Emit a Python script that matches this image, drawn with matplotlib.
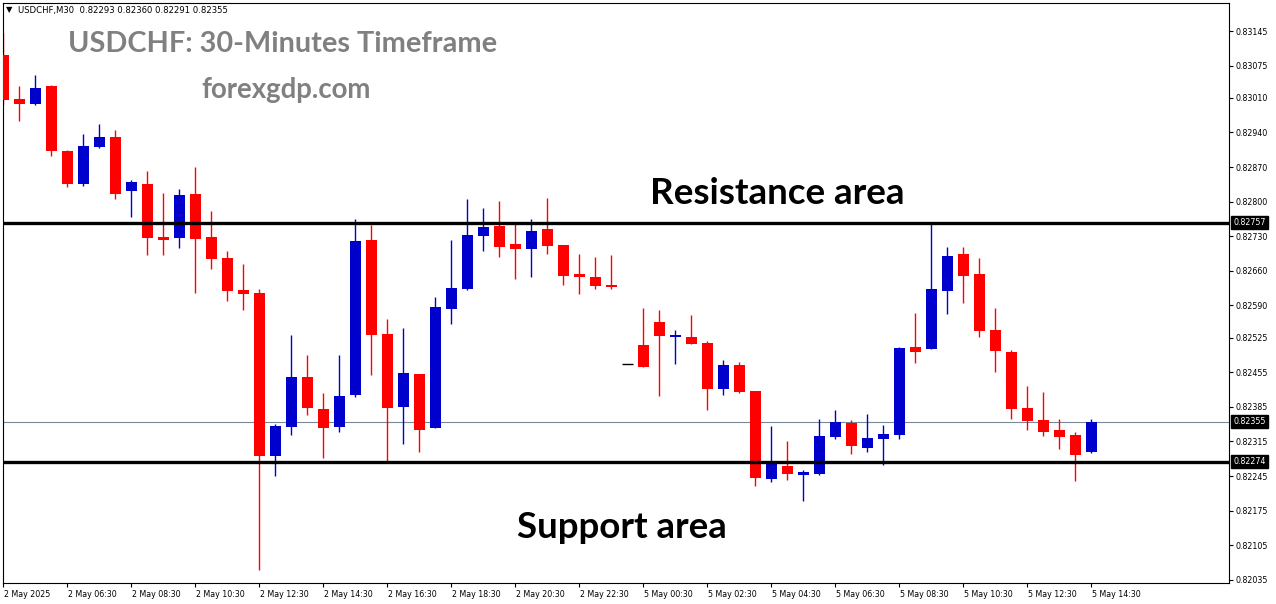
import matplotlib
matplotlib.use("Agg")
import matplotlib.pyplot as plt
import matplotlib.transforms as mtransforms

# --- data (USDCHF M30) ---
OPENS = [0.83097, 0.83008, 0.82998, 0.83034, 0.82902, 0.82836, 0.82911, 0.82931, 0.82822, 0.82836,
         0.82729, 0.82727, 0.82816, 0.82729, 0.82686, 0.82621, 0.82615, 0.82286, 0.82345, 0.82445,
         0.82381, 0.82345, 0.82408, 0.82722, 0.82532, 0.82385, 0.82452, 0.82343, 0.82583, 0.82624,
         0.82731, 0.82751, 0.82714, 0.82705, 0.82745, 0.82712, 0.82654, 0.82648, 0.82631, 0.82472,
         0.82510, 0.82557, 0.82527, 0.82526, 0.82514, 0.82422, 0.82470, 0.82417, 0.82240, 0.82266,
         0.82248, 0.82250, 0.82325, 0.82352, 0.82302, 0.82321, 0.82329, 0.82506, 0.82503, 0.82620,
         0.82694, 0.82654, 0.82540, 0.82496, 0.82383, 0.82358, 0.82338, 0.82328, 0.82293]
HIGHS = [0.83141, 0.83034, 0.83056, 0.83035, 0.82904, 0.82937, 0.82957, 0.82945, 0.82844, 0.82862,
         0.82818, 0.82826, 0.82871, 0.82782, 0.82700, 0.82674, 0.82623, 0.82350, 0.82530, 0.82490,
         0.82413, 0.82490, 0.82765, 0.82753, 0.82563, 0.82545, 0.82452, 0.82607, 0.82722, 0.82805,
         0.82787, 0.82801, 0.82755, 0.82765, 0.82807, 0.82712, 0.82694, 0.82688, 0.82692, 0.82472,
         0.82585, 0.82581, 0.82540, 0.82571, 0.82518, 0.82480, 0.82476, 0.82417, 0.82346, 0.82315,
         0.82257, 0.82360, 0.82379, 0.82358, 0.82371, 0.82348, 0.82506, 0.82575, 0.82755, 0.82708,
         0.82708, 0.82686, 0.82585, 0.82500, 0.82427, 0.82415, 0.82360, 0.82334, 0.82360]
LOWS = [0.82995, 0.82964, 0.82995, 0.82892, 0.82830, 0.82832, 0.82909, 0.82806, 0.82768, 0.82693,
        0.82693, 0.82707, 0.82615, 0.82664, 0.82600, 0.82581, 0.82055, 0.82246, 0.82329, 0.82369,
        0.82282, 0.82335, 0.82404, 0.82450, 0.82276, 0.82309, 0.82294, 0.82343, 0.82553, 0.82622,
        0.82701, 0.82689, 0.82644, 0.82648, 0.82695, 0.82632, 0.82614, 0.82624, 0.82624, 0.82472,
        0.82466, 0.82406, 0.82472, 0.82513, 0.82379, 0.82410, 0.82414, 0.82226, 0.82234, 0.82238,
        0.82195, 0.82248, 0.82321, 0.82290, 0.82294, 0.82268, 0.82321, 0.82474, 0.82503, 0.82573,
        0.82596, 0.82527, 0.82456, 0.82361, 0.82339, 0.82327, 0.82300, 0.82236, 0.82291]
CLOSES = [0.83006, 0.82998, 0.83030, 0.82903, 0.82836, 0.82912, 0.82931, 0.82816, 0.82840, 0.82727,
          0.82723, 0.82814, 0.82725, 0.82683, 0.82620, 0.82614, 0.82286, 0.82346, 0.82445, 0.82383,
          0.82343, 0.82407, 0.82720, 0.82531, 0.82383, 0.82454, 0.82339, 0.82587, 0.82625, 0.82733,
          0.82749, 0.82709, 0.82705, 0.82741, 0.82711, 0.82650, 0.82648, 0.82630, 0.82628, 0.82472,
          0.82466, 0.82529, 0.82530, 0.82513, 0.82422, 0.82470, 0.82416, 0.82242, 0.82270, 0.82250,
          0.82253, 0.82326, 0.82354, 0.82305, 0.82322, 0.82330, 0.82504, 0.82495, 0.82623, 0.82690,
          0.82650, 0.82539, 0.82497, 0.82381, 0.82357, 0.82335, 0.82325, 0.82288, 0.82355]

X_LABELS = ["2 May 2025", "2 May 06:30", "2 May 08:30", "2 May 10:30", "2 May 12:30",
            "2 May 14:30", "2 May 16:30", "2 May 18:30", "2 May 20:30", "2 May 22:30",
            "5 May 00:30", "5 May 02:30", "5 May 04:30", "5 May 06:30", "5 May 08:30",
            "5 May 10:30", "5 May 12:30", "5 May 14:30"]
Y_TICKS = [0.83145, 0.83075, 0.83010, 0.82940, 0.82870, 0.82800, 0.82730, 0.82660, 0.82590,
           0.82525, 0.82455, 0.82385, 0.82315, 0.82245, 0.82175, 0.82105, 0.82035]

RESISTANCE = 0.82757
SUPPORT = 0.82274
LAST_PRICE = 0.82355
HEADER = "USDCHF,M30  0.82293 0.82360 0.82291 0.82355"

UP = "#0000CD"
DOWN = "#FF0000"
W, H = 1276, 604


def main():
    fig = plt.figure(figsize=(W / 100, H / 100), dpi=100)
    ax = fig.add_axes([3 / W, 21 / H, 1226 / W, 580 / H])

    n = len(OPENS)
    xs = list(range(n))
    body_w = 11 / 16

    # wicks first, bodies on top
    for i in xs:
        o, h, l, c = OPENS[i], HIGHS[i], LOWS[i], CLOSES[i]
        col = UP if c > o else DOWN if c < o else "black"
        ax.vlines(i, l, h, color=col, lw=1.0, zorder=2)
        if c == o:
            ax.hlines(o, i - body_w / 2, i + body_w / 2, color="black", lw=1.0, zorder=3)
        else:
            ax.bar(i, abs(c - o), bottom=min(o, c), width=body_w, color=col,
                   linewidth=0, zorder=3)

    # levels
    ax.axhline(RESISTANCE, color="black", lw=2.4, zorder=4)
    ax.axhline(SUPPORT, color="black", lw=2.4, zorder=4)
    ax.axhline(LAST_PRICE, color="#778899", lw=0.8, zorder=1)

    px = 0.00002022
    ax.set_ylim(0.83145 - 552 * px, 0.83145 + 28 * px)
    ax.set_xlim(-0.02, 76.6)

    ax.yaxis.tick_right()
    ax.set_yticks(Y_TICKS)
    ax.set_yticklabels([f"{v:.5f}" for v in Y_TICKS])
    ax.set_xticks(xs[::4])
    ax.set_xticklabels(X_LABELS, ha="left")
    ax.tick_params(axis="y", length=3, width=0.8, pad=2, labelsize=5.7, direction="out")
    ax.tick_params(axis="x", length=3, width=0.8, pad=2, labelsize=5.7, direction="out")
    for lab in ax.get_xticklabels():
        lab.set_transform(lab.get_transform() + mtransforms.ScaledTranslation(1 / 100, 0, fig.dpi_scale_trans))
    for sp in ax.spines.values():
        sp.set_linewidth(0.8)

    # price tags on the right scale
    trans = mtransforms.blended_transform_factory(ax.transAxes, ax.transData)
    for v in (RESISTANCE, LAST_PRICE, SUPPORT):
        ax.text(1.0035, v, f"{v:.5f}", transform=trans, ha="left", va="center",
                fontsize=5.7, color="white", clip_on=False, zorder=6,
                bbox=dict(boxstyle="square,pad=0.25", fc="black", ec="black"))

    # header
    fig.text(9.5 / W, 1 - 10 / H, "\u25BC", fontsize=6, ha="center", va="center")
    fig.text(18 / W, 1 - 10 / H, HEADER, fontsize=6.15, ha="left", va="center")

    fig.text(283 / W, 1 - 44 / H, "USDCHF: 30-Minutes Timeframe", fontsize=20.8,
             family="Lato", weight="bold", color="#808080", ha="center", va="center")
    fig.text(286 / W, 1 - 90 / H, "forexgdp.com", fontsize=19.9,
             family="Lato", weight="bold", color="#808080", ha="center", va="center")
    fig.text(777 / W, 1 - 194 / H, "Resistance area", fontsize=26.5,
             family="Lato", weight="bold", color="black", ha="center", va="center")
    fig.text(622 / W, 1 - 527 / H, "Support area", fontsize=26.4,
             family="Lato", weight="bold", color="black", ha="center", va="center")

    fig.savefig("out.png", dpi=100)
    plt.close(fig)


if __name__ == "__main__":
    main()
